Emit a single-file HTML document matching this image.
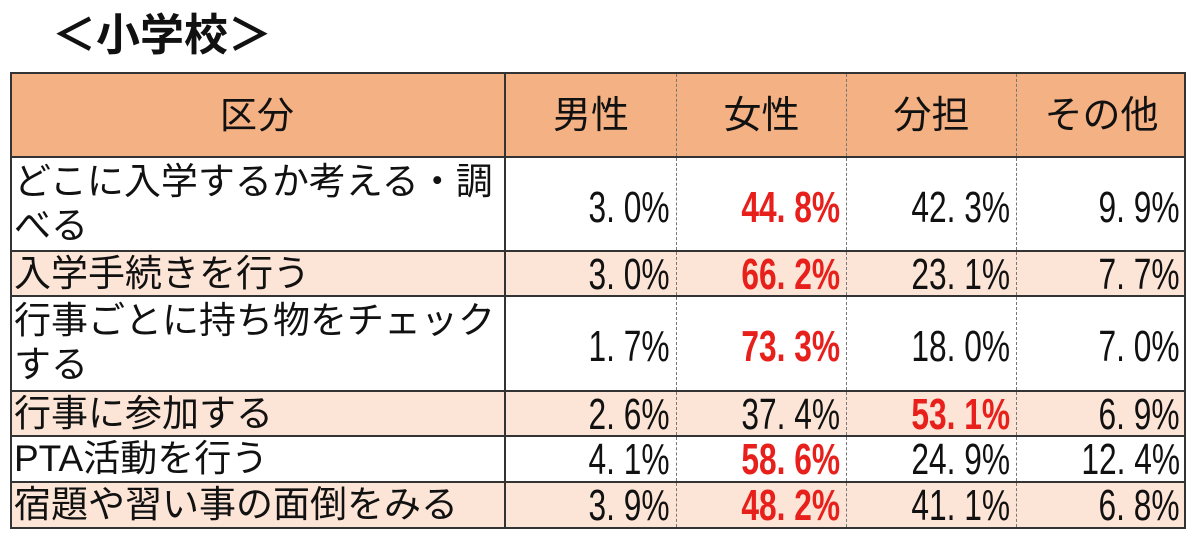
<!DOCTYPE html>
<html><head><meta charset="utf-8"><style>
body{margin:0;width:1200px;height:546px;background:#fff;position:relative;overflow:hidden;font-family:"Liberation Sans","Noto Sans CJK JP",sans-serif;}
.t{position:absolute;left:52px;top:8px;font-size:44px;font-weight:bold;color:#111;line-height:56px;}
.r{position:absolute;left:10px;width:1176px;border-bottom:2px solid #333;box-sizing:border-box;}
.c{position:absolute;top:0;bottom:0;box-sizing:border-box;white-space:nowrap;}
.lbl{left:0;width:496px;border-right:2px solid #333;font-size:37px;line-height:44px;padding-left:4px;color:#111;}
.n{font-size:44px;text-align:right;padding-right:6px;color:#111;}
.n span{display:inline-block;transform:scaleX(0.72);transform-origin:right;}
.d{border-right:1px dashed #777;}
.red{color:#e8201c;font-weight:bold;}
.h{background:#f4b183;}
.p{background:#fce4d6;}
.hc{text-align:center;font-size:38px;color:#111;}
</style></head><body>
<div class="t">＜小学校＞</div>
<div class="r h" style="top:72px;height:86px;border-top:2px solid #333">
 <div class="c lbl" style="line-height:84px;text-align:center;padding:0">区分</div>
 <div class="c hc d" style="left:496px;width:171px;line-height:84px">男性</div>
 <div class="c hc d" style="left:667px;width:170px;line-height:84px">女性</div>
 <div class="c hc d" style="left:837px;width:170px;line-height:84px">分担</div>
 <div class="c hc" style="left:1007px;width:169px;line-height:84px">その他</div>
</div>
<div class="r" style="top:158px;height:94px">
 <div class="c lbl" style="padding-top:2px">どこに入学するか考える・調<br>べる</div>
 <div class="c n d" style="left:496px;width:171px;line-height:100px"><span>3.&nbsp;0%</span></div>
 <div class="c n d red" style="left:667px;width:170px;line-height:100px"><span>44.&nbsp;8%</span></div>
 <div class="c n d" style="left:837px;width:170px;line-height:100px"><span>42.&nbsp;3%</span></div>
 <div class="c n" style="left:1007px;width:169px;line-height:100px"><span>9.&nbsp;9%</span></div>
</div>
<div class="r p" style="top:252px;height:45px">
 <div class="c lbl" style="line-height:44px">入学手続きを行う</div>
 <div class="c n d" style="left:496px;width:171px;line-height:46px"><span>3.&nbsp;0%</span></div>
 <div class="c n d red" style="left:667px;width:170px;line-height:46px"><span>66.&nbsp;2%</span></div>
 <div class="c n d" style="left:837px;width:170px;line-height:46px"><span>23.&nbsp;1%</span></div>
 <div class="c n" style="left:1007px;width:169px;line-height:46px"><span>7.&nbsp;7%</span></div>
</div>
<div class="r" style="top:297px;height:95px">
 <div class="c lbl" style="padding-top:2px">行事ごとに持ち物をチェック<br>する</div>
 <div class="c n d" style="left:496px;width:171px;line-height:100px"><span>1.&nbsp;7%</span></div>
 <div class="c n d red" style="left:667px;width:170px;line-height:100px"><span>73.&nbsp;3%</span></div>
 <div class="c n d" style="left:837px;width:170px;line-height:100px"><span>18.&nbsp;0%</span></div>
 <div class="c n" style="left:1007px;width:169px;line-height:100px"><span>7.&nbsp;0%</span></div>
</div>
<div class="r p" style="top:392px;height:45px">
 <div class="c lbl" style="line-height:44px">行事に参加する</div>
 <div class="c n d" style="left:496px;width:171px;line-height:46px"><span>2.&nbsp;6%</span></div>
 <div class="c n d" style="left:667px;width:170px;line-height:46px"><span>37.&nbsp;4%</span></div>
 <div class="c n d red" style="left:837px;width:170px;line-height:46px"><span>53.&nbsp;1%</span></div>
 <div class="c n" style="left:1007px;width:169px;line-height:46px"><span>6.&nbsp;9%</span></div>
</div>
<div class="r" style="top:437px;height:46px">
 <div class="c lbl" style="line-height:44px">PTA活動を行う</div>
 <div class="c n d" style="left:496px;width:171px;line-height:46px"><span>4.&nbsp;1%</span></div>
 <div class="c n d red" style="left:667px;width:170px;line-height:46px"><span>58.&nbsp;6%</span></div>
 <div class="c n d" style="left:837px;width:170px;line-height:46px"><span>24.&nbsp;9%</span></div>
 <div class="c n" style="left:1007px;width:169px;line-height:46px"><span>12.&nbsp;4%</span></div>
</div>
<div class="r p" style="top:483px;height:46px">
 <div class="c lbl" style="line-height:44px">宿題や習い事の面倒をみる</div>
 <div class="c n d" style="left:496px;width:171px;line-height:46px"><span>3.&nbsp;9%</span></div>
 <div class="c n d red" style="left:667px;width:170px;line-height:46px"><span>48.&nbsp;2%</span></div>
 <div class="c n d" style="left:837px;width:170px;line-height:46px"><span>41.&nbsp;1%</span></div>
 <div class="c n" style="left:1007px;width:169px;line-height:46px"><span>6.&nbsp;8%</span></div>
</div>
<div style="position:absolute;left:10px;top:72px;width:1176px;height:457px;border:2px solid #333;box-sizing:border-box;"></div>
</body></html>
